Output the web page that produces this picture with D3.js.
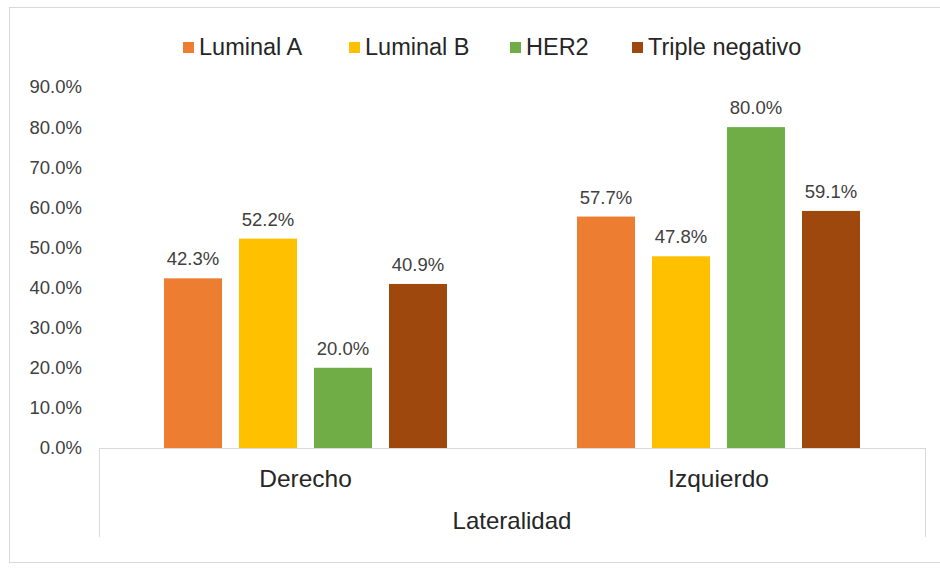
<!DOCTYPE html>
<html>
<head>
<meta charset="utf-8">
<script src="https://cdn.jsdelivr.net/npm/d3@7"></script>
<style>
  body { margin: 0; background: #fff; }
  svg text { font-family: "Liberation Sans", Arial, sans-serif; }
</style>
</head>
<body>
<div id="chart"></div>
<script>
// categories and series
const categories = ["Derecho", "Izquierdo"];
const seriesNames = ["Luminal A", "Luminal B", "HER2", "Triple negativo"];
const seriesColors = ["#ED7D31", "#FFC000", "#70AD47", "#9E480E"];
const luminalA = [42.3, 57.7];
const luminalB = [52.2, 47.8];
const her2 = [20.0, 80.0];
const tripleNeg = [40.9, 59.1];
const yTicks = [0, 10, 20, 30, 40, 50, 60, 70, 80, 90];
const axisTitle = "Lateralidad";

const values = [luminalA, luminalB, her2, tripleNeg];

const W = 940, H = 570;
const plot = {left: 99, right: 925, top: 87, bottom: 448};

const svg = d3.select("#chart").append("svg")
  .attr("width", W)
  .attr("height", H);

// outer chart border
svg.append("rect")
  .attr("x", 9.5).attr("y", 7.5)
  .attr("width", 940).attr("height", 555)
  .attr("fill", "#fff")
  .attr("stroke", "#d9d9d9");

const x0 = d3.scaleBand()
  .domain(categories)
  .range([plot.left, plot.right]);

const x1 = d3.scaleBand()
  .domain(seriesNames)
  .range([0, x0.bandwidth()])
  .paddingInner(0.227)
  .paddingOuter(0.867);

const y = d3.scaleLinear()
  .domain([0, 90])
  .range([plot.bottom, plot.top]);

// y tick labels (no axis line, no gridlines)
const yAxis = svg.append("g")
  .attr("transform", "translate(" + plot.left + ",0)")
  .call(d3.axisLeft(y).tickValues(yTicks).tickSize(0).tickPadding(17)
    .tickFormat(d => d.toFixed(1) + "%"));
yAxis.select(".domain").remove();
yAxis.selectAll("text")
  .attr("font-size", 18.5)
  .attr("fill", "#404040")
  .attr("font-family", "Liberation Sans, Arial, sans-serif");

// bars
const groups = svg.append("g").selectAll("g")
  .data(categories)
  .join("g")
  .attr("transform", d => "translate(" + x0(d) + ",0)");

groups.each(function (cat, ci) {
  const g = d3.select(this);
  seriesNames.forEach(function (name, si) {
    const v = values[si][ci];
    g.append("rect")
      .attr("x", x1(name))
      .attr("y", y(v))
      .attr("width", x1.bandwidth())
      .attr("height", y(0) - y(v))
      .attr("fill", seriesColors[si]);
    g.append("text")
      .attr("x", x1(name) + x1.bandwidth() / 2)
      .attr("y", y(v) - 13)
      .attr("text-anchor", "middle")
      .attr("font-size", 18.5)
      .attr("fill", "#404040")
      .text(v.toFixed(1) + "%");
  });
});

// category axis frame
const frame = svg.append("g")
  .attr("stroke", "#d9d9d9")
  .attr("fill", "none");
frame.append("line")
  .attr("x1", plot.left).attr("x2", plot.right)
  .attr("y1", plot.bottom + 0.5).attr("y2", plot.bottom + 0.5);
[plot.left, plot.right].forEach(function (xx) {
  frame.append("line")
    .attr("x1", xx + 0.5).attr("x2", xx + 0.5)
    .attr("y1", plot.bottom).attr("y2", 537);
});

svg.append("g").selectAll("text")
  .data(categories)
  .join("text")
  .attr("x", d => x0(d) + x0.bandwidth() / 2)
  .attr("y", 487)
  .attr("text-anchor", "middle")
  .attr("font-size", 24.5)
  .attr("fill", "#262626")
  .text(d => d);

svg.append("text")
  .attr("x", (plot.left + plot.right) / 2)
  .attr("y", 529)
  .attr("text-anchor", "middle")
  .attr("font-size", 24)
  .attr("fill", "#262626")
  .text(axisTitle);

// legend
const legendX = [183, 349, 510, 632];
const legend = svg.append("g").selectAll("g")
  .data(seriesNames)
  .join("g")
  .attr("transform", (d, i) => "translate(" + legendX[i] + ",0)");
legend.append("rect")
  .attr("x", 0).attr("y", 42)
  .attr("width", 11).attr("height", 11)
  .attr("fill", (d, i) => seriesColors[i]);
legend.append("text")
  .attr("x", 16)
  .attr("y", 55)
  .attr("font-size", 23.5)
  .attr("fill", "#262626")
  .text(d => d);
</script>
</body>
</html>
